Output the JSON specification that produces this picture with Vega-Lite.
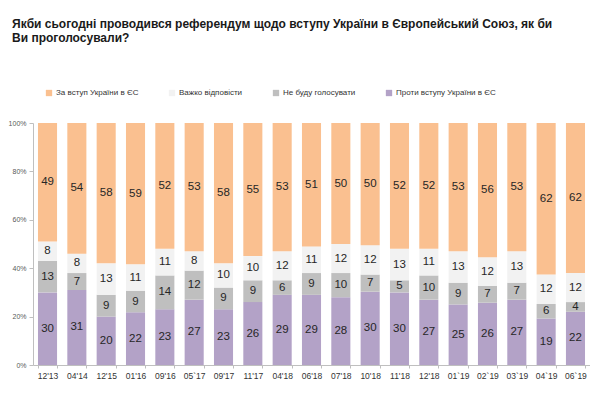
{
  "$schema": "https://vega.github.io/schema/vega-lite/v6.json",
  "width": 557,
  "height": 242,
  "autosize": {"type": "none"},
  "padding": {"left": 33, "top": 123, "right": 0, "bottom": 33},
  "background": "white",
  "title": {
    "text": ["Якби сьогодні проводився референдум щодо вступу України в Європейський Союз, як би", "Ви проголосували?"],
    "anchor": "start",
    "frame": "group",
    "dx": -21,
    "font": "Liberation Sans",
    "fontSize": 12,
    "fontWeight": "bold",
    "color": "#1a1a1a",
    "lineHeight": 14,
    "offset": 44
  },
  "config": {"view": {"stroke": null}},
  "data": {
    "values": [
      {"d": "12'13", "k": "Проти вступу України в ЄС", "o": 1, "v": 30},
      {"d": "12'13", "k": "Не буду голосувати", "o": 2, "v": 13},
      {"d": "12'13", "k": "Важко відповісти", "o": 3, "v": 8},
      {"d": "12'13", "k": "За вступ України в ЄС", "o": 4, "v": 49},
      {"d": "04'14", "k": "Проти вступу України в ЄС", "o": 1, "v": 31},
      {"d": "04'14", "k": "Не буду голосувати", "o": 2, "v": 7},
      {"d": "04'14", "k": "Важко відповісти", "o": 3, "v": 8},
      {"d": "04'14", "k": "За вступ України в ЄС", "o": 4, "v": 54},
      {"d": "12'15", "k": "Проти вступу України в ЄС", "o": 1, "v": 20},
      {"d": "12'15", "k": "Не буду голосувати", "o": 2, "v": 9},
      {"d": "12'15", "k": "Важко відповісти", "o": 3, "v": 13},
      {"d": "12'15", "k": "За вступ України в ЄС", "o": 4, "v": 58},
      {"d": "01'16", "k": "Проти вступу України в ЄС", "o": 1, "v": 22},
      {"d": "01'16", "k": "Не буду голосувати", "o": 2, "v": 9},
      {"d": "01'16", "k": "Важко відповісти", "o": 3, "v": 11},
      {"d": "01'16", "k": "За вступ України в ЄС", "o": 4, "v": 59},
      {"d": "09'16", "k": "Проти вступу України в ЄС", "o": 1, "v": 23},
      {"d": "09'16", "k": "Не буду голосувати", "o": 2, "v": 14},
      {"d": "09'16", "k": "Важко відповісти", "o": 3, "v": 11},
      {"d": "09'16", "k": "За вступ України в ЄС", "o": 4, "v": 52},
      {"d": "05`17", "k": "Проти вступу України в ЄС", "o": 1, "v": 27},
      {"d": "05`17", "k": "Не буду голосувати", "o": 2, "v": 12},
      {"d": "05`17", "k": "Важко відповісти", "o": 3, "v": 8},
      {"d": "05`17", "k": "За вступ України в ЄС", "o": 4, "v": 53},
      {"d": "09'17", "k": "Проти вступу України в ЄС", "o": 1, "v": 23},
      {"d": "09'17", "k": "Не буду голосувати", "o": 2, "v": 9},
      {"d": "09'17", "k": "Важко відповісти", "o": 3, "v": 10},
      {"d": "09'17", "k": "За вступ України в ЄС", "o": 4, "v": 58},
      {"d": "11'17", "k": "Проти вступу України в ЄС", "o": 1, "v": 26},
      {"d": "11'17", "k": "Не буду голосувати", "o": 2, "v": 9},
      {"d": "11'17", "k": "Важко відповісти", "o": 3, "v": 10},
      {"d": "11'17", "k": "За вступ України в ЄС", "o": 4, "v": 55},
      {"d": "04'18", "k": "Проти вступу України в ЄС", "o": 1, "v": 29},
      {"d": "04'18", "k": "Не буду голосувати", "o": 2, "v": 6},
      {"d": "04'18", "k": "Важко відповісти", "o": 3, "v": 12},
      {"d": "04'18", "k": "За вступ України в ЄС", "o": 4, "v": 53},
      {"d": "06'18", "k": "Проти вступу України в ЄС", "o": 1, "v": 29},
      {"d": "06'18", "k": "Не буду голосувати", "o": 2, "v": 9},
      {"d": "06'18", "k": "Важко відповісти", "o": 3, "v": 11},
      {"d": "06'18", "k": "За вступ України в ЄС", "o": 4, "v": 51},
      {"d": "07'18", "k": "Проти вступу України в ЄС", "o": 1, "v": 28},
      {"d": "07'18", "k": "Не буду голосувати", "o": 2, "v": 10},
      {"d": "07'18", "k": "Важко відповісти", "o": 3, "v": 12},
      {"d": "07'18", "k": "За вступ України в ЄС", "o": 4, "v": 50},
      {"d": "10'18", "k": "Проти вступу України в ЄС", "o": 1, "v": 30},
      {"d": "10'18", "k": "Не буду голосувати", "o": 2, "v": 7},
      {"d": "10'18", "k": "Важко відповісти", "o": 3, "v": 12},
      {"d": "10'18", "k": "За вступ України в ЄС", "o": 4, "v": 50},
      {"d": "11'18", "k": "Проти вступу України в ЄС", "o": 1, "v": 30},
      {"d": "11'18", "k": "Не буду голосувати", "o": 2, "v": 5},
      {"d": "11'18", "k": "Важко відповісти", "o": 3, "v": 13},
      {"d": "11'18", "k": "За вступ України в ЄС", "o": 4, "v": 52},
      {"d": "12'18", "k": "Проти вступу України в ЄС", "o": 1, "v": 27},
      {"d": "12'18", "k": "Не буду голосувати", "o": 2, "v": 10},
      {"d": "12'18", "k": "Важко відповісти", "o": 3, "v": 11},
      {"d": "12'18", "k": "За вступ України в ЄС", "o": 4, "v": 52},
      {"d": "01`19", "k": "Проти вступу України в ЄС", "o": 1, "v": 25},
      {"d": "01`19", "k": "Не буду голосувати", "o": 2, "v": 9},
      {"d": "01`19", "k": "Важко відповісти", "o": 3, "v": 13},
      {"d": "01`19", "k": "За вступ України в ЄС", "o": 4, "v": 53},
      {"d": "02`19", "k": "Проти вступу України в ЄС", "o": 1, "v": 26},
      {"d": "02`19", "k": "Не буду голосувати", "o": 2, "v": 7},
      {"d": "02`19", "k": "Важко відповісти", "o": 3, "v": 12},
      {"d": "02`19", "k": "За вступ України в ЄС", "o": 4, "v": 56},
      {"d": "03`19", "k": "Проти вступу України в ЄС", "o": 1, "v": 27},
      {"d": "03`19", "k": "Не буду голосувати", "o": 2, "v": 7},
      {"d": "03`19", "k": "Важко відповісти", "o": 3, "v": 13},
      {"d": "03`19", "k": "За вступ України в ЄС", "o": 4, "v": 53},
      {"d": "04`19", "k": "Проти вступу України в ЄС", "o": 1, "v": 19},
      {"d": "04`19", "k": "Не буду голосувати", "o": 2, "v": 6},
      {"d": "04`19", "k": "Важко відповісти", "o": 3, "v": 12},
      {"d": "04`19", "k": "За вступ України в ЄС", "o": 4, "v": 62},
      {"d": "06`19", "k": "Проти вступу України в ЄС", "o": 1, "v": 22},
      {"d": "06`19", "k": "Не буду голосувати", "o": 2, "v": 4},
      {"d": "06`19", "k": "Важко відповісти", "o": 3, "v": 12},
      {"d": "06`19", "k": "За вступ України в ЄС", "o": 4, "v": 62}
    ]
  },
  "encoding": {
    "x": {
      "field": "d",
      "type": "nominal",
      "sort": null,
      "scale": {"paddingInner": 0.35, "paddingOuter": 0.17},
      "axis": {
        "title": null,
        "labelAngle": 0,
        "labelFont": "Liberation Sans",
        "labelFontSize": 8.5,
        "labelColor": "#333333",
        "labelPadding": 3,
        "domainColor": "#bfbfbf",
        "tickColor": "#bfbfbf",
        "tickSize": 3,
        "tickBand": "extent"
      }
    },
    "y": {
      "field": "v",
      "type": "quantitative",
      "stack": "normalize",
      "scale": {"domain": [0, 1]},
      "axis": {
        "title": null,
        "format": ".0%",
        "values": [0, 0.2, 0.4, 0.6, 0.8, 1],
        "grid": false,
        "labelFont": "Liberation Sans",
        "labelFontSize": 7,
        "labelColor": "#595959",
        "labelPadding": 3,
        "domainColor": "#bfbfbf",
        "tickColor": "#bfbfbf",
        "tickSize": 4
      }
    },
    "order": {"field": "o", "type": "quantitative"}
  },
  "layer": [
    {
      "mark": {"type": "bar"},
      "encoding": {
        "color": {
          "field": "k",
          "type": "nominal",
          "scale": {
            "domain": ["За вступ України в ЄС", "Важко відповісти", "Не буду голосувати", "Проти вступу України в ЄС"],
            "range": ["#fac090", "#f2f2f2", "#bfbfbf", "#b3a2c7"]
          },
          "legend": {
            "title": null,
            "orient": "none",
            "direction": "horizontal",
            "legendX": 12,
            "legendY": -34,
            "symbolType": "square",
            "symbolSize": 40,
            "symbolStrokeWidth": 0,
            "labelFont": "Liberation Sans",
            "labelFontSize": 8,
            "labelColor": "#333333",
            "columnPadding": 29,
            "labelOffset": 3
          }
        }
      }
    },
    {
      "mark": {"type": "text", "font": "Liberation Sans", "fontSize": 11.5, "color": "#262626"},
      "encoding": {
        "y": {"field": "v", "type": "quantitative", "stack": "normalize", "bandPosition": 0.5},
        "text": {"field": "v", "type": "quantitative"}
      }
    }
  ]
}
